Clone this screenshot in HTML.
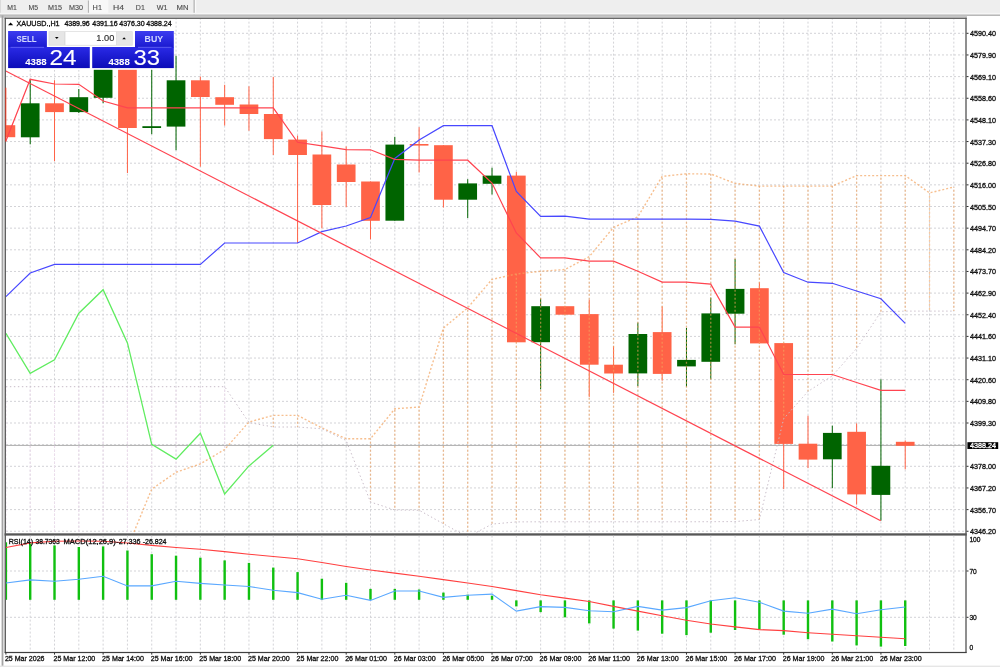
<!DOCTYPE html>
<html><head><meta charset="utf-8"><style>
html,body{margin:0;padding:0;background:#fff;width:1000px;height:667px;overflow:hidden}
svg{display:block;filter:blur(0.5px)}
</style></head><body>
<svg width="1000" height="667" viewBox="0 0 1000 667">
<defs><clipPath id="cm"><rect x="6" y="19" width="959.5" height="514"/></clipPath><clipPath id="cs"><rect x="6" y="535.6" width="959.5" height="116.2"/></clipPath><linearGradient id="gb" x1="0" y1="0" x2="0" y2="1"><stop offset="0" stop-color="#3c3cf0"/><stop offset="1" stop-color="#1a1ad0"/></linearGradient><linearGradient id="gp" x1="0" y1="0" x2="0" y2="1"><stop offset="0" stop-color="#2a2ae6"/><stop offset="1" stop-color="#0c0cb8"/></linearGradient></defs>
<rect x="0" y="0" width="1000" height="667" fill="#ffffff"/>
<rect x="0" y="0" width="1000" height="14.6" fill="#efefef"/>
<rect x="0" y="0" width="0.8" height="14.6" fill="#d6d6d6"/>
<rect x="89" y="0" width="19.4" height="14.6" fill="#f8f8f8"/>
<rect x="87.9" y="0.5" width="1" height="13.5" fill="#b0b0b0"/>
<rect x="193.6" y="0" width="1.2" height="14.6" fill="#a8a8a8"/>
<rect x="194.8" y="0" width="1.5" height="14.6" fill="#fafafa"/>
<rect x="196.3" y="0" width="803.7" height="12.8" fill="#eeeeee"/>
<text x="7.3" y="9.9" font-size="6.6" fill="#4e4e4e" font-family='"Liberation Sans", sans-serif' stroke="#4e4e4e" stroke-width="0.12" textLength="9.6" lengthAdjust="spacingAndGlyphs">M1</text>
<text x="28.5" y="9.9" font-size="6.6" fill="#4e4e4e" font-family='"Liberation Sans", sans-serif' stroke="#4e4e4e" stroke-width="0.12" textLength="9.6" lengthAdjust="spacingAndGlyphs">M5</text>
<text x="48" y="9.9" font-size="6.6" fill="#4e4e4e" font-family='"Liberation Sans", sans-serif' stroke="#4e4e4e" stroke-width="0.12" textLength="14" lengthAdjust="spacingAndGlyphs">M15</text>
<text x="69" y="9.9" font-size="6.6" fill="#4e4e4e" font-family='"Liberation Sans", sans-serif' stroke="#4e4e4e" stroke-width="0.12" textLength="14" lengthAdjust="spacingAndGlyphs">M30</text>
<text x="92.6" y="9.9" font-size="6.6" fill="#4e4e4e" font-family='"Liberation Sans", sans-serif' stroke="#4e4e4e" stroke-width="0.12" textLength="9.4" lengthAdjust="spacingAndGlyphs">H1</text>
<text x="113" y="9.9" font-size="6.6" fill="#4e4e4e" font-family='"Liberation Sans", sans-serif' stroke="#4e4e4e" stroke-width="0.12" textLength="11" lengthAdjust="spacingAndGlyphs">H4</text>
<text x="135.8" y="9.9" font-size="6.6" fill="#4e4e4e" font-family='"Liberation Sans", sans-serif' stroke="#4e4e4e" stroke-width="0.12" textLength="9" lengthAdjust="spacingAndGlyphs">D1</text>
<text x="156.8" y="9.9" font-size="6.6" fill="#4e4e4e" font-family='"Liberation Sans", sans-serif' stroke="#4e4e4e" stroke-width="0.12" textLength="10.8" lengthAdjust="spacingAndGlyphs">W1</text>
<text x="176.6" y="9.9" font-size="6.6" fill="#4e4e4e" font-family='"Liberation Sans", sans-serif' stroke="#4e4e4e" stroke-width="0.12" textLength="12" lengthAdjust="spacingAndGlyphs">MN</text>
<rect x="0" y="12.8" width="1000" height="1.9" fill="#f6f6f6"/>
<rect x="0" y="14.7" width="1000" height="0.9" fill="#8a8a8a"/>
<rect x="0" y="15.6" width="967" height="2.1" fill="#c6c6c6"/>
<rect x="1.6" y="15.5" width="1.8" height="651.5" fill="#a4a4a4"/>
<rect x="0" y="665.6" width="1000" height="1.4" fill="#e6e6e6"/>
<rect x="4.6" y="17.7" width="962.1" height="1.2" fill="#585858"/>
<rect x="4.6" y="17.8" width="1.3" height="634.8" fill="#505050"/>
<rect x="965.3" y="17.8" width="1.4" height="634.8" fill="#606060"/>
<rect x="4.6" y="533.3" width="962.1" height="2.3" fill="#565656"/>
<rect x="4.6" y="651.9" width="962.1" height="1.2" fill="#404040"/>
<g clip-path="url(#cm)">
<path d="M6 33.3H965.5M6 54.95H965.5M6 76.6H965.5M6 98.25H965.5M6 119.9H965.5M6 141.55H965.5M6 163.2H965.5M6 184.85H965.5M6 206.5H965.5M6 228.15H965.5M6 249.8H965.5M6 271.45H965.5M6 293.1H965.5M6 314.75H965.5M6 336.4H965.5M6 358.05H965.5M6 379.7H965.5M6 401.35H965.5M6 423H965.5M6 444.65H965.5M6 466.3H965.5M6 487.95H965.5M6 509.6H965.5M6 531.25H965.5" stroke="#d3d3d7" stroke-width="1" stroke-dasharray="2 2" fill="none"/>
<path d="M30.21 19V533M54.51 19V533M78.82 19V533M103.12 19V533M127.43 19V533M151.74 19V533M176.04 19V533M200.35 19V533M224.65 19V533M248.96 19V533M273.27 19V533M297.57 19V533M321.88 19V533M346.18 19V533M370.49 19V533M394.8 19V533M419.1 19V533M443.41 19V533M467.71 19V533M492.02 19V533M516.33 19V533M540.63 19V533M564.94 19V533M589.24 19V533M613.55 19V533M637.86 19V533M662.16 19V533M686.47 19V533M710.77 19V533M735.08 19V533M759.39 19V533M783.69 19V533M808 19V533M832.3 19V533M856.61 19V533M880.92 19V533M905.22 19V533M929.53 19V533M953.83 19V533" stroke="#d3d3d7" stroke-width="1" stroke-dasharray="2 2" stroke-dashoffset="1.35" fill="none"/>
<path d="M6 445.4H965.5" stroke="#adadad" stroke-width="1"/>
<rect x="5.4" y="87.7" width="1" height="54" fill="#ff6347"/>
<rect x="-3.45" y="125.2" width="18.7" height="12" fill="#ff6347"/>
<rect x="29.71" y="79.3" width="1" height="65" fill="#006400"/>
<rect x="20.86" y="103.3" width="18.7" height="34" fill="#006400"/>
<rect x="54.01" y="80.2" width="1" height="81" fill="#ff6347"/>
<rect x="45.16" y="103.3" width="18.7" height="8.8" fill="#ff6347"/>
<rect x="78.32" y="89" width="1" height="24" fill="#006400"/>
<rect x="69.47" y="97.2" width="18.7" height="14.9" fill="#006400"/>
<rect x="102.62" y="50" width="1" height="53.2" fill="#006400"/>
<rect x="93.77" y="60" width="18.7" height="37.8" fill="#006400"/>
<rect x="126.93" y="45" width="1" height="128" fill="#ff6347"/>
<rect x="118.08" y="55" width="18.7" height="73" fill="#ff6347"/>
<rect x="151.24" y="40" width="1" height="94.2" fill="#006400"/>
<rect x="142.39" y="126.2" width="18.7" height="1.8" fill="#006400"/>
<rect x="175.54" y="55.8" width="1" height="94.4" fill="#006400"/>
<rect x="166.69" y="80.3" width="18.7" height="46.3" fill="#006400"/>
<rect x="199.85" y="76.5" width="1" height="90.1" fill="#ff6347"/>
<rect x="191" y="80.3" width="18.7" height="16.7" fill="#ff6347"/>
<rect x="224.15" y="84.8" width="1" height="40.8" fill="#ff6347"/>
<rect x="215.3" y="97.2" width="18.7" height="7.6" fill="#ff6347"/>
<rect x="248.46" y="86.3" width="1" height="44.4" fill="#ff6347"/>
<rect x="239.61" y="104.5" width="18.7" height="9.5" fill="#ff6347"/>
<rect x="272.77" y="76.8" width="1" height="78.2" fill="#ff6347"/>
<rect x="263.92" y="114" width="18.7" height="25.1" fill="#ff6347"/>
<rect x="297.07" y="135.6" width="1" height="107.4" fill="#ff6347"/>
<rect x="288.22" y="139.6" width="18.7" height="15.4" fill="#ff6347"/>
<rect x="321.38" y="131.5" width="1" height="96.9" fill="#ff6347"/>
<rect x="312.53" y="154.5" width="18.7" height="50.5" fill="#ff6347"/>
<rect x="345.68" y="146.4" width="1" height="60.7" fill="#ff6347"/>
<rect x="336.83" y="164.5" width="18.7" height="17.5" fill="#ff6347"/>
<rect x="369.99" y="181.5" width="1" height="57.8" fill="#ff6347"/>
<rect x="361.14" y="181.5" width="18.7" height="39.3" fill="#ff6347"/>
<rect x="394.3" y="136.8" width="1" height="83.9" fill="#006400"/>
<rect x="385.45" y="144.6" width="18.7" height="76.1" fill="#006400"/>
<rect x="418.6" y="127.2" width="1" height="45.3" fill="#ff6347"/>
<rect x="409.75" y="144" width="18.7" height="1.6" fill="#ff6347"/>
<rect x="442.91" y="145.2" width="1" height="62.3" fill="#ff6347"/>
<rect x="434.06" y="145.2" width="18.7" height="54.5" fill="#ff6347"/>
<rect x="467.21" y="179.2" width="1" height="38.8" fill="#006400"/>
<rect x="458.36" y="183.4" width="18.7" height="16.3" fill="#006400"/>
<rect x="491.52" y="167.7" width="1" height="26.8" fill="#006400"/>
<rect x="482.67" y="175.6" width="18.7" height="8.2" fill="#006400"/>
<rect x="515.83" y="171.8" width="1" height="170.5" fill="#ff6347"/>
<rect x="506.98" y="175.6" width="18.7" height="166.7" fill="#ff6347"/>
<rect x="540.13" y="298.5" width="1" height="90.8" fill="#006400"/>
<rect x="531.28" y="306.2" width="18.7" height="36" fill="#006400"/>
<rect x="564.44" y="306.2" width="1" height="8.5" fill="#ff6347"/>
<rect x="555.59" y="306.2" width="18.7" height="8.5" fill="#ff6347"/>
<rect x="588.74" y="299.7" width="1" height="97.2" fill="#ff6347"/>
<rect x="579.89" y="314.1" width="18.7" height="50.6" fill="#ff6347"/>
<rect x="613.05" y="346.1" width="1" height="46.7" fill="#ff6347"/>
<rect x="604.2" y="364.7" width="18.7" height="8.8" fill="#ff6347"/>
<rect x="637.36" y="322.6" width="1" height="63.5" fill="#006400"/>
<rect x="628.51" y="334" width="18.7" height="39.4" fill="#006400"/>
<rect x="661.66" y="306.4" width="1" height="74.3" fill="#ff6347"/>
<rect x="652.81" y="332.1" width="18.7" height="41.8" fill="#ff6347"/>
<rect x="685.97" y="328" width="1" height="58.6" fill="#006400"/>
<rect x="677.12" y="359.9" width="18.7" height="6.5" fill="#006400"/>
<rect x="710.27" y="297.6" width="1" height="81.7" fill="#006400"/>
<rect x="701.42" y="313.4" width="18.7" height="48.4" fill="#006400"/>
<rect x="734.58" y="258.9" width="1" height="85.4" fill="#006400"/>
<rect x="725.73" y="288.9" width="18.7" height="24.8" fill="#006400"/>
<rect x="758.89" y="282.3" width="1" height="61.1" fill="#ff6347"/>
<rect x="750.04" y="288.2" width="18.7" height="55.2" fill="#ff6347"/>
<rect x="783.19" y="343.1" width="1" height="145.9" fill="#ff6347"/>
<rect x="774.34" y="343.1" width="18.7" height="100.8" fill="#ff6347"/>
<rect x="807.5" y="415.7" width="1" height="52.4" fill="#ff6347"/>
<rect x="798.65" y="443.7" width="18.7" height="15.9" fill="#ff6347"/>
<rect x="831.8" y="425.6" width="1" height="62.6" fill="#006400"/>
<rect x="822.95" y="432.9" width="18.7" height="26.4" fill="#006400"/>
<rect x="856.11" y="423.4" width="1" height="81.2" fill="#ff6347"/>
<rect x="847.26" y="431.8" width="18.7" height="62.6" fill="#ff6347"/>
<rect x="880.42" y="379.3" width="1" height="141.4" fill="#006400"/>
<rect x="871.57" y="465.8" width="18.7" height="29.1" fill="#006400"/>
<rect x="904.72" y="440.4" width="1" height="28.9" fill="#ff6347"/>
<rect x="895.87" y="441.8" width="18.7" height="4" fill="#ff6347"/>
<path d="M273.27 415.4V427" stroke="#f4a460" stroke-width="1.3" stroke-opacity="0.62" stroke-dasharray="2 2" stroke-dashoffset="1.75" fill="none"/>
<path d="M297.57 415.4V427" stroke="#f4a460" stroke-width="1.3" stroke-opacity="0.62" stroke-dasharray="2 2" stroke-dashoffset="1.75" fill="none"/>
<path d="M370.49 438.7V502" stroke="#f4a460" stroke-width="1.3" stroke-opacity="0.62" stroke-dasharray="2 2" stroke-dashoffset="1.05" fill="none"/>
<path d="M394.8 408.8V510" stroke="#f4a460" stroke-width="1.3" stroke-opacity="0.62" stroke-dasharray="2 2" stroke-dashoffset="3.15" fill="none"/>
<path d="M419.1 407V510.2" stroke="#f4a460" stroke-width="1.3" stroke-opacity="0.62" stroke-dasharray="2 2" stroke-dashoffset="1.35" fill="none"/>
<path d="M443.41 328V523.8" stroke="#f4a460" stroke-width="1.3" stroke-opacity="0.62" stroke-dasharray="2 2" stroke-dashoffset="2.35" fill="none"/>
<path d="M467.71 307.8V537" stroke="#f4a460" stroke-width="1.3" stroke-opacity="0.62" stroke-dasharray="2 2" stroke-dashoffset="2.15" fill="none"/>
<path d="M492.02 279.4V524.1" stroke="#f4a460" stroke-width="1.3" stroke-opacity="0.62" stroke-dasharray="2 2" stroke-dashoffset="1.75" fill="none"/>
<path d="M516.33 274V521.9" stroke="#f4a460" stroke-width="1.3" stroke-opacity="0.62" stroke-dasharray="2 2" stroke-dashoffset="0.35" fill="none"/>
<path d="M540.63 271.3V521.8" stroke="#f4a460" stroke-width="1.3" stroke-opacity="0.62" stroke-dasharray="2 2" stroke-dashoffset="1.65" fill="none"/>
<path d="M564.94 269.5V521.8" stroke="#f4a460" stroke-width="1.3" stroke-opacity="0.62" stroke-dasharray="2 2" stroke-dashoffset="3.85" fill="none"/>
<path d="M589.24 256.7V521.8" stroke="#f4a460" stroke-width="1.3" stroke-opacity="0.62" stroke-dasharray="2 2" stroke-dashoffset="3.05" fill="none"/>
<path d="M613.55 227.3V521.8" stroke="#f4a460" stroke-width="1.3" stroke-opacity="0.62" stroke-dasharray="2 2" stroke-dashoffset="1.65" fill="none"/>
<path d="M637.86 216.8V521.8" stroke="#f4a460" stroke-width="1.3" stroke-opacity="0.62" stroke-dasharray="2 2" stroke-dashoffset="3.15" fill="none"/>
<path d="M662.16 176.4V521.8" stroke="#f4a460" stroke-width="1.3" stroke-opacity="0.62" stroke-dasharray="2 2" stroke-dashoffset="2.75" fill="none"/>
<path d="M686.47 173.8V521.8" stroke="#f4a460" stroke-width="1.3" stroke-opacity="0.62" stroke-dasharray="2 2" stroke-dashoffset="0.15" fill="none"/>
<path d="M710.77 174V521.7" stroke="#f4a460" stroke-width="1.3" stroke-opacity="0.62" stroke-dasharray="2 2" stroke-dashoffset="0.35" fill="none"/>
<path d="M735.08 183.4V521.6" stroke="#f4a460" stroke-width="1.3" stroke-opacity="0.62" stroke-dasharray="2 2" stroke-dashoffset="1.75" fill="none"/>
<path d="M759.39 186.1V519.5" stroke="#f4a460" stroke-width="1.3" stroke-opacity="0.62" stroke-dasharray="2 2" stroke-dashoffset="0.45" fill="none"/>
<path d="M783.69 186.1V418.7" stroke="#f4a460" stroke-width="1.3" stroke-opacity="0.62" stroke-dasharray="2 2" stroke-dashoffset="0.45" fill="none"/>
<path d="M808 186.1V391.4" stroke="#f4a460" stroke-width="1.3" stroke-opacity="0.62" stroke-dasharray="2 2" stroke-dashoffset="0.45" fill="none"/>
<path d="M832.3 186.1V375.8" stroke="#f4a460" stroke-width="1.3" stroke-opacity="0.62" stroke-dasharray="2 2" stroke-dashoffset="0.45" fill="none"/>
<path d="M856.61 175.6V348.5" stroke="#f4a460" stroke-width="1.3" stroke-opacity="0.62" stroke-dasharray="2 2" stroke-dashoffset="1.95" fill="none"/>
<path d="M880.92 175.6V311.8" stroke="#f4a460" stroke-width="1.3" stroke-opacity="0.62" stroke-dasharray="2 2" stroke-dashoffset="1.95" fill="none"/>
<path d="M905.22 175.6V311.1" stroke="#f4a460" stroke-width="1.3" stroke-opacity="0.62" stroke-dasharray="2 2" stroke-dashoffset="1.95" fill="none"/>
<path d="M929.53 192.9V311.1" stroke="#f4a460" stroke-width="1.3" stroke-opacity="0.62" stroke-dasharray="2 2" stroke-dashoffset="1.25" fill="none"/>
<path d="M953.83 187V311.1" stroke="#f4a460" stroke-width="1.3" stroke-opacity="0.62" stroke-dasharray="2 2" stroke-dashoffset="1.35" fill="none"/>
<path d="M5.9 386.7V600" stroke="#ecdcec" stroke-width="1.1" stroke-dasharray="2 2" stroke-dashoffset="1.05" fill="none"/>
<path d="M30.21 386.7V600" stroke="#ecdcec" stroke-width="1.1" stroke-dasharray="2 2" stroke-dashoffset="1.05" fill="none"/>
<path d="M54.51 386.7V600" stroke="#ecdcec" stroke-width="1.1" stroke-dasharray="2 2" stroke-dashoffset="1.05" fill="none"/>
<path d="M78.82 386.7V600" stroke="#ecdcec" stroke-width="1.1" stroke-dasharray="2 2" stroke-dashoffset="1.05" fill="none"/>
<path d="M103.12 386.7V600" stroke="#ecdcec" stroke-width="1.1" stroke-dasharray="2 2" stroke-dashoffset="1.05" fill="none"/>
<path d="M127.43 386.7V547.8" stroke="#ecdcec" stroke-width="1.1" stroke-dasharray="2 2" stroke-dashoffset="1.05" fill="none"/>
<path d="M151.74 386.7V489.1" stroke="#ecdcec" stroke-width="1.1" stroke-dasharray="2 2" stroke-dashoffset="1.05" fill="none"/>
<path d="M176.04 386.7V472.3" stroke="#ecdcec" stroke-width="1.1" stroke-dasharray="2 2" stroke-dashoffset="1.05" fill="none"/>
<path d="M200.35 386.7V463.9" stroke="#ecdcec" stroke-width="1.1" stroke-dasharray="2 2" stroke-dashoffset="1.05" fill="none"/>
<path d="M224.65 386.7V449.5" stroke="#ecdcec" stroke-width="1.1" stroke-dasharray="2 2" stroke-dashoffset="1.05" fill="none"/>
<polyline points="5.9,600 30.21,600 54.51,600 78.82,600 103.12,600 127.43,547.8 151.74,489.1 176.04,472.3 200.35,463.9 224.65,449.5 248.96,422 273.27,415.4 297.57,415.4 321.88,427.9 346.18,438.7 370.49,438.7 394.8,408.8 419.1,407 443.41,328 467.71,307.8 492.02,279.4 516.33,274 540.63,271.3 564.94,269.5 589.24,256.7 613.55,227.3 637.86,216.8 662.16,176.4 686.47,173.8 710.77,174 735.08,183.4 759.39,186.1 783.69,186.1 808,186.1 832.3,186.1 856.61,175.6 880.92,175.6 905.22,175.6 929.53,192.9 953.83,187" stroke="#f4a460" stroke-opacity="0.7" stroke-width="1.4" stroke-dasharray="2 2" fill="none"/>
<polyline points="5.9,386.7 30.21,386.7 54.51,386.7 78.82,386.7 103.12,386.7 127.43,386.7 151.74,386.7 176.04,386.7 200.35,386.7 224.65,386.7 248.96,422.5 273.27,427 297.57,427 321.88,428.8 346.18,440.5 370.49,502 394.8,510 419.1,510.2 443.41,523.8 467.71,537 492.02,524.1 516.33,521.9 540.63,521.8 564.94,521.8 589.24,521.8 613.55,521.8 637.86,521.8 662.16,521.8 686.47,521.8 710.77,521.7 735.08,521.6 759.39,519.5 783.69,418.7 808,391.4 832.3,375.8 856.61,348.5 880.92,311.8 905.22,311.1 929.53,311.1 953.83,311.1" stroke="#c8bcc8" stroke-width="1" stroke-dasharray="1.4 2.6" fill="none"/>
<polyline points="5.9,296.6 30.21,273 54.51,264.4 78.82,264.4 103.12,264.4 127.43,264.4 151.74,264.4 176.04,264.4 200.35,264.4 224.65,243 248.96,243 273.27,243 297.57,243 321.88,231.6 346.18,226 370.49,217.5 394.8,158.4 419.1,140 443.41,125.7 467.71,125.7 492.02,125.7 516.33,191.5 540.63,216.4 564.94,216.2 589.24,219.2 613.55,219.2 637.86,219.2 662.16,219.2 686.47,219.2 710.77,219.3 735.08,221.2 759.39,226.1 783.69,272.6 808,282.2 832.3,283.3 856.61,291 880.92,298.8 905.22,323.3" stroke="#4848ff" stroke-width="1.2" fill="none"/>
<polyline points="5.9,141 30.21,79.3 54.51,84 78.82,84.3 103.12,101 127.43,107.8 151.74,107.8 176.04,107.8 200.35,107.8 224.65,107.8 248.96,107.8 273.27,107.8 297.57,142.3 321.88,145.8 346.18,149.6 370.49,149.8 394.8,159.3 419.1,160.2 443.41,160.2 467.71,160.2 492.02,183 516.33,233 540.63,257.9 564.94,257.9 589.24,261.1 613.55,261.1 637.86,271.3 662.16,282.1 686.47,282.1 710.77,284.1 735.08,327.1 759.39,327.1 783.69,374.5 808,374.5 832.3,374.5 856.61,382.5 880.92,390.4 905.22,390.4" stroke="#ff4450" stroke-width="1.2" fill="none"/>
<polyline points="5.9,333.4 30.21,373.4 54.51,359.9 78.82,313.2 103.12,289.7 127.43,342.9 151.74,444.3 176.04,459.1 200.35,433.2 224.65,493.9 248.96,465.9 273.27,445.3" stroke="#60ec60" stroke-width="1.3" fill="none"/>
<path d="M5.5 70.8L880.7 520.7" stroke="#ff4450" stroke-width="1.2" fill="none"/>
</g>
<rect x="5" y="87.7" width="1" height="54" fill="#c04030"/>
<rect x="6" y="19" width="168" height="50.8" fill="#ffffff"/>
<rect x="174" y="19" width="1.2" height="10.5" fill="#ffffff"/>
<path d="M8 25.2L10.6 22.6L13.2 25.2Z" fill="#000"/>
<text x="16.6" y="25.8" font-size="6.6" fill="#101010" font-family='"Liberation Sans", sans-serif' stroke="#101010" stroke-width="0.3" textLength="43" lengthAdjust="spacingAndGlyphs">XAUUSD.,H1</text>
<text x="64.4" y="25.8" font-size="6.6" fill="#101010" font-family='"Liberation Sans", sans-serif' stroke="#101010" stroke-width="0.3" textLength="25.4" lengthAdjust="spacingAndGlyphs">4389.96</text>
<text x="92.3" y="25.8" font-size="6.6" fill="#101010" font-family='"Liberation Sans", sans-serif' stroke="#101010" stroke-width="0.3" textLength="25.4" lengthAdjust="spacingAndGlyphs">4391.16</text>
<text x="119.3" y="25.8" font-size="6.6" fill="#101010" font-family='"Liberation Sans", sans-serif' stroke="#101010" stroke-width="0.3" textLength="25.4" lengthAdjust="spacingAndGlyphs">4376.30</text>
<text x="146.3" y="25.8" font-size="6.6" fill="#101010" font-family='"Liberation Sans", sans-serif' stroke="#101010" stroke-width="0.3" textLength="25.4" lengthAdjust="spacingAndGlyphs">4388.24</text>
<rect x="8.1" y="31" width="38.8" height="16.5" fill="url(#gb)"/>
<rect x="8.1" y="47" width="81.7" height="21.1" fill="url(#gp)"/>
<rect x="10.5" y="46.9" width="33.5" height="0.6" fill="#8080ff"/>
<rect x="92.2" y="47" width="81.6" height="21.1" fill="url(#gp)"/>
<rect x="135" y="31" width="38.8" height="16.5" fill="url(#gb)"/>
<rect x="138" y="46.9" width="33.5" height="0.6" fill="#8080ff"/>
<rect x="48.6" y="31.3" width="84" height="14.3" fill="#d8d8d8"/>
<rect x="49.4" y="31.9" width="15" height="13" fill="#e6e6e6"/>
<rect x="65.4" y="31.9" width="50.6" height="13" fill="#ffffff"/>
<rect x="116.4" y="31.9" width="15.6" height="13" fill="#e6e6e6"/>
<path d="M55 37L58.6 37L56.8 39Z" fill="#000"/>
<path d="M122.3 39.2L125.9 39.2L124.1 37.2Z" fill="#000"/>
<text x="96.3" y="41.1" font-size="8.9" fill="#303030" font-family='"Liberation Sans", sans-serif' stroke="#303030" stroke-width="0.15" textLength="18" lengthAdjust="spacingAndGlyphs">1.00</text>
<text x="16.5" y="42" font-size="9.2" fill="#d0d6ff" font-family='"Liberation Sans", sans-serif' stroke="#d0d6ff" stroke-width="0.05" textLength="20.2" lengthAdjust="spacingAndGlyphs" font-weight="bold">SELL</text>
<text x="144.6" y="41.9" font-size="9.2" fill="#d0d6ff" font-family='"Liberation Sans", sans-serif' stroke="#d0d6ff" stroke-width="0.05" textLength="18.5" lengthAdjust="spacingAndGlyphs" font-weight="bold">BUY</text>
<text x="25.2" y="65.2" font-size="8.4" fill="#ffffff" font-family='"Liberation Sans", sans-serif' stroke="#ffffff" stroke-width="0.05" textLength="21.4" lengthAdjust="spacingAndGlyphs" font-weight="bold">4388</text>
<text x="49.4" y="65.1" font-size="21.2" fill="#ffffff" font-family='"Liberation Sans", sans-serif' stroke="#ffffff" stroke-width="0.1" textLength="27" lengthAdjust="spacingAndGlyphs">24</text>
<text x="108.4" y="65.2" font-size="8.4" fill="#ffffff" font-family='"Liberation Sans", sans-serif' stroke="#ffffff" stroke-width="0.05" textLength="21.4" lengthAdjust="spacingAndGlyphs" font-weight="bold">4388</text>
<text x="133.4" y="65.3" font-size="21.2" fill="#ffffff" font-family='"Liberation Sans", sans-serif' stroke="#ffffff" stroke-width="0.1" textLength="26.5" lengthAdjust="spacingAndGlyphs">33</text>
<g clip-path="url(#cs)">
<path d="M6 571H965.5M6 617.3H965.5M30.21 535.6V651.8M54.51 535.6V651.8M78.82 535.6V651.8M103.12 535.6V651.8M127.43 535.6V651.8M151.74 535.6V651.8M176.04 535.6V651.8M200.35 535.6V651.8M224.65 535.6V651.8M248.96 535.6V651.8M273.27 535.6V651.8M297.57 535.6V651.8M321.88 535.6V651.8M346.18 535.6V651.8M370.49 535.6V651.8M394.8 535.6V651.8M419.1 535.6V651.8M443.41 535.6V651.8M467.71 535.6V651.8M492.02 535.6V651.8M516.33 535.6V651.8M540.63 535.6V651.8M564.94 535.6V651.8M589.24 535.6V651.8M613.55 535.6V651.8M637.86 535.6V651.8M662.16 535.6V651.8M686.47 535.6V651.8M710.77 535.6V651.8M735.08 535.6V651.8M759.39 535.6V651.8M783.69 535.6V651.8M808 535.6V651.8M832.3 535.6V651.8M856.61 535.6V651.8M880.92 535.6V651.8M905.22 535.6V651.8M929.53 535.6V651.8M953.83 535.6V651.8" stroke="#d3d3d7" stroke-width="1" stroke-dasharray="2 2" fill="none"/>
<rect x="4.7" y="542.3" width="2.4" height="57.5" fill="#10c010"/>
<rect x="29.01" y="543.3" width="2.4" height="56.5" fill="#10c010"/>
<rect x="53.31" y="545.4" width="2.4" height="54.4" fill="#10c010"/>
<rect x="77.62" y="547" width="2.4" height="52.8" fill="#10c010"/>
<rect x="101.92" y="546.4" width="2.4" height="53.4" fill="#10c010"/>
<rect x="126.23" y="550.5" width="2.4" height="49.3" fill="#10c010"/>
<rect x="150.54" y="554.2" width="2.4" height="45.6" fill="#10c010"/>
<rect x="174.84" y="555.7" width="2.4" height="44.1" fill="#10c010"/>
<rect x="199.15" y="557.7" width="2.4" height="42.1" fill="#10c010"/>
<rect x="223.45" y="560.4" width="2.4" height="39.4" fill="#10c010"/>
<rect x="247.76" y="562.9" width="2.4" height="36.9" fill="#10c010"/>
<rect x="272.07" y="567.6" width="2.4" height="32.2" fill="#10c010"/>
<rect x="296.37" y="572.1" width="2.4" height="27.7" fill="#10c010"/>
<rect x="320.68" y="578.7" width="2.4" height="21.1" fill="#10c010"/>
<rect x="344.98" y="582.8" width="2.4" height="17" fill="#10c010"/>
<rect x="369.29" y="588.9" width="2.4" height="10.9" fill="#10c010"/>
<rect x="393.6" y="588.9" width="2.4" height="10.9" fill="#10c010"/>
<rect x="417.9" y="589.5" width="2.4" height="10.3" fill="#10c010"/>
<rect x="442.21" y="592.6" width="2.4" height="7.2" fill="#10c010"/>
<rect x="466.51" y="594.7" width="2.4" height="5.1" fill="#10c010"/>
<rect x="490.82" y="595.7" width="2.4" height="4.1" fill="#10c010"/>
<rect x="515.13" y="600.4" width="2.4" height="6" fill="#10c010"/>
<rect x="539.43" y="600.4" width="2.4" height="11.7" fill="#10c010"/>
<rect x="563.74" y="600.4" width="2.4" height="16.9" fill="#10c010"/>
<rect x="588.04" y="600.4" width="2.4" height="23" fill="#10c010"/>
<rect x="612.35" y="600.4" width="2.4" height="28.2" fill="#10c010"/>
<rect x="636.66" y="600.4" width="2.4" height="30.2" fill="#10c010"/>
<rect x="660.96" y="600.4" width="2.4" height="33.3" fill="#10c010"/>
<rect x="685.27" y="600.4" width="2.4" height="34.7" fill="#10c010"/>
<rect x="709.57" y="600.4" width="2.4" height="32.3" fill="#10c010"/>
<rect x="733.88" y="600.4" width="2.4" height="29.6" fill="#10c010"/>
<rect x="758.19" y="600.4" width="2.4" height="29.2" fill="#10c010"/>
<rect x="782.49" y="600.4" width="2.4" height="34.3" fill="#10c010"/>
<rect x="806.8" y="600.4" width="2.4" height="38.8" fill="#10c010"/>
<rect x="831.1" y="600.4" width="2.4" height="41.1" fill="#10c010"/>
<rect x="855.41" y="600.4" width="2.4" height="45" fill="#10c010"/>
<rect x="879.72" y="600.4" width="2.4" height="46.2" fill="#10c010"/>
<rect x="904.02" y="600.4" width="2.4" height="45.6" fill="#10c010"/>
<polyline points="5.9,547.5 30.21,542.9 54.51,541.3 78.82,541 103.12,541.2 127.43,543 151.74,545.4 176.04,547.5 200.35,549.3 224.65,551.6 248.96,554.2 273.27,556.5 297.57,558.7 321.88,562.5 346.18,566.5 370.49,570 394.8,573.1 419.1,576.3 443.41,579.6 467.71,583 492.02,586.5 516.33,590.6 540.63,594.7 564.94,598.1 589.24,601.5 613.55,606.4 637.86,611.1 662.16,615.8 686.47,620.3 710.77,624 735.08,626.9 759.39,629.6 783.69,630.6 808,632.7 832.3,634.3 856.61,635.7 880.92,637.2 905.22,638.8" stroke="#ff4040" stroke-width="1.1" fill="none"/>
<polyline points="5.9,583 30.21,579.9 54.51,581.3 78.82,579.3 103.12,576.2 127.43,585.9 151.74,585.9 176.04,581.3 200.35,583.4 224.65,585 248.96,586.5 273.27,590.2 297.57,592.6 321.88,599.2 346.18,595.3 370.49,600.4 394.8,591 419.1,591 443.41,597.4 467.71,595.3 492.02,594.1 516.33,611.1 540.63,606.6 564.94,607.4 589.24,610.7 613.55,611.7 637.86,606.4 662.16,610.1 686.47,607.6 710.77,600.8 735.08,597.8 759.39,602.3 783.69,611.1 808,613.2 832.3,609.1 856.61,613.8 880.92,609.7 905.22,607" stroke="#5aa8ff" stroke-width="1.1" fill="none"/>
</g>
<text x="8.7" y="543.6" font-size="6.9" fill="#101010" font-family='"Liberation Sans", sans-serif' stroke="#101010" stroke-width="0.3" textLength="24.5" lengthAdjust="spacingAndGlyphs">RSI(14)</text>
<text x="35.5" y="543.6" font-size="6.9" fill="#101010" font-family='"Liberation Sans", sans-serif' stroke="#101010" stroke-width="0.3" textLength="24.2" lengthAdjust="spacingAndGlyphs">38.7363</text>
<text x="63.6" y="543.6" font-size="6.9" fill="#101010" font-family='"Liberation Sans", sans-serif' stroke="#101010" stroke-width="0.3" textLength="52.2" lengthAdjust="spacingAndGlyphs">MACD(12,26,9)</text>
<text x="116.3" y="543.6" font-size="6.9" fill="#101010" font-family='"Liberation Sans", sans-serif' stroke="#101010" stroke-width="0.3" textLength="24.2" lengthAdjust="spacingAndGlyphs">-27.336</text>
<text x="142.7" y="543.6" font-size="6.9" fill="#101010" font-family='"Liberation Sans", sans-serif' stroke="#101010" stroke-width="0.3" textLength="23.8" lengthAdjust="spacingAndGlyphs">-26.824</text>
<rect x="966.5" y="32.8" width="2" height="1" fill="#303030"/>
<text x="970" y="36.3" font-size="6.9" fill="#101010" font-family='"Liberation Sans", sans-serif' stroke="#101010" stroke-width="0.3" textLength="26" lengthAdjust="spacingAndGlyphs">4590.40</text>
<rect x="966.5" y="54.45" width="2" height="1" fill="#303030"/>
<text x="970" y="57.95" font-size="6.9" fill="#101010" font-family='"Liberation Sans", sans-serif' stroke="#101010" stroke-width="0.3" textLength="26" lengthAdjust="spacingAndGlyphs">4579.90</text>
<rect x="966.5" y="76.1" width="2" height="1" fill="#303030"/>
<text x="970" y="79.6" font-size="6.9" fill="#101010" font-family='"Liberation Sans", sans-serif' stroke="#101010" stroke-width="0.3" textLength="26" lengthAdjust="spacingAndGlyphs">4569.10</text>
<rect x="966.5" y="97.75" width="2" height="1" fill="#303030"/>
<text x="970" y="101.25" font-size="6.9" fill="#101010" font-family='"Liberation Sans", sans-serif' stroke="#101010" stroke-width="0.3" textLength="26" lengthAdjust="spacingAndGlyphs">4558.60</text>
<rect x="966.5" y="119.4" width="2" height="1" fill="#303030"/>
<text x="970" y="122.9" font-size="6.9" fill="#101010" font-family='"Liberation Sans", sans-serif' stroke="#101010" stroke-width="0.3" textLength="26" lengthAdjust="spacingAndGlyphs">4548.10</text>
<rect x="966.5" y="141.05" width="2" height="1" fill="#303030"/>
<text x="970" y="144.55" font-size="6.9" fill="#101010" font-family='"Liberation Sans", sans-serif' stroke="#101010" stroke-width="0.3" textLength="26" lengthAdjust="spacingAndGlyphs">4537.30</text>
<rect x="966.5" y="162.7" width="2" height="1" fill="#303030"/>
<text x="970" y="166.2" font-size="6.9" fill="#101010" font-family='"Liberation Sans", sans-serif' stroke="#101010" stroke-width="0.3" textLength="26" lengthAdjust="spacingAndGlyphs">4526.80</text>
<rect x="966.5" y="184.35" width="2" height="1" fill="#303030"/>
<text x="970" y="187.85" font-size="6.9" fill="#101010" font-family='"Liberation Sans", sans-serif' stroke="#101010" stroke-width="0.3" textLength="26" lengthAdjust="spacingAndGlyphs">4516.00</text>
<rect x="966.5" y="206" width="2" height="1" fill="#303030"/>
<text x="970" y="209.5" font-size="6.9" fill="#101010" font-family='"Liberation Sans", sans-serif' stroke="#101010" stroke-width="0.3" textLength="26" lengthAdjust="spacingAndGlyphs">4505.50</text>
<rect x="966.5" y="227.65" width="2" height="1" fill="#303030"/>
<text x="970" y="231.15" font-size="6.9" fill="#101010" font-family='"Liberation Sans", sans-serif' stroke="#101010" stroke-width="0.3" textLength="26" lengthAdjust="spacingAndGlyphs">4494.70</text>
<rect x="966.5" y="249.3" width="2" height="1" fill="#303030"/>
<text x="970" y="252.8" font-size="6.9" fill="#101010" font-family='"Liberation Sans", sans-serif' stroke="#101010" stroke-width="0.3" textLength="26" lengthAdjust="spacingAndGlyphs">4484.20</text>
<rect x="966.5" y="270.95" width="2" height="1" fill="#303030"/>
<text x="970" y="274.45" font-size="6.9" fill="#101010" font-family='"Liberation Sans", sans-serif' stroke="#101010" stroke-width="0.3" textLength="26" lengthAdjust="spacingAndGlyphs">4473.70</text>
<rect x="966.5" y="292.6" width="2" height="1" fill="#303030"/>
<text x="970" y="296.1" font-size="6.9" fill="#101010" font-family='"Liberation Sans", sans-serif' stroke="#101010" stroke-width="0.3" textLength="26" lengthAdjust="spacingAndGlyphs">4462.90</text>
<rect x="966.5" y="314.25" width="2" height="1" fill="#303030"/>
<text x="970" y="317.75" font-size="6.9" fill="#101010" font-family='"Liberation Sans", sans-serif' stroke="#101010" stroke-width="0.3" textLength="26" lengthAdjust="spacingAndGlyphs">4452.40</text>
<rect x="966.5" y="335.9" width="2" height="1" fill="#303030"/>
<text x="970" y="339.4" font-size="6.9" fill="#101010" font-family='"Liberation Sans", sans-serif' stroke="#101010" stroke-width="0.3" textLength="26" lengthAdjust="spacingAndGlyphs">4441.60</text>
<rect x="966.5" y="357.55" width="2" height="1" fill="#303030"/>
<text x="970" y="361.05" font-size="6.9" fill="#101010" font-family='"Liberation Sans", sans-serif' stroke="#101010" stroke-width="0.3" textLength="26" lengthAdjust="spacingAndGlyphs">4431.10</text>
<rect x="966.5" y="379.2" width="2" height="1" fill="#303030"/>
<text x="970" y="382.7" font-size="6.9" fill="#101010" font-family='"Liberation Sans", sans-serif' stroke="#101010" stroke-width="0.3" textLength="26" lengthAdjust="spacingAndGlyphs">4420.60</text>
<rect x="966.5" y="400.85" width="2" height="1" fill="#303030"/>
<text x="970" y="404.35" font-size="6.9" fill="#101010" font-family='"Liberation Sans", sans-serif' stroke="#101010" stroke-width="0.3" textLength="26" lengthAdjust="spacingAndGlyphs">4409.80</text>
<rect x="966.5" y="422.5" width="2" height="1" fill="#303030"/>
<text x="970" y="426" font-size="6.9" fill="#101010" font-family='"Liberation Sans", sans-serif' stroke="#101010" stroke-width="0.3" textLength="26" lengthAdjust="spacingAndGlyphs">4399.30</text>
<rect x="966.5" y="465.8" width="2" height="1" fill="#303030"/>
<text x="970" y="469.3" font-size="6.9" fill="#101010" font-family='"Liberation Sans", sans-serif' stroke="#101010" stroke-width="0.3" textLength="26" lengthAdjust="spacingAndGlyphs">4378.00</text>
<rect x="966.5" y="487.45" width="2" height="1" fill="#303030"/>
<text x="970" y="490.95" font-size="6.9" fill="#101010" font-family='"Liberation Sans", sans-serif' stroke="#101010" stroke-width="0.3" textLength="26" lengthAdjust="spacingAndGlyphs">4367.20</text>
<rect x="966.5" y="509.1" width="2" height="1" fill="#303030"/>
<text x="970" y="512.6" font-size="6.9" fill="#101010" font-family='"Liberation Sans", sans-serif' stroke="#101010" stroke-width="0.3" textLength="26" lengthAdjust="spacingAndGlyphs">4356.70</text>
<rect x="966.5" y="530.75" width="2" height="1" fill="#303030"/>
<text x="970" y="534.25" font-size="6.9" fill="#101010" font-family='"Liberation Sans", sans-serif' stroke="#101010" stroke-width="0.3" textLength="26" lengthAdjust="spacingAndGlyphs">4346.20</text>
<rect x="967.4" y="442.2" width="30.8" height="6.8" fill="#000000"/>
<text x="970" y="448.3" font-size="6.9" fill="#ffffff" font-family='"Liberation Sans", sans-serif' stroke="#ffffff" stroke-width="0.3" textLength="26" lengthAdjust="spacingAndGlyphs">4388.24</text>
<text x="969.4" y="541.9" font-size="6.9" fill="#101010" font-family='"Liberation Sans", sans-serif' stroke="#101010" stroke-width="0.3" textLength="11.1" lengthAdjust="spacingAndGlyphs">100</text>
<text x="969.4" y="573.9" font-size="6.9" fill="#101010" font-family='"Liberation Sans", sans-serif' stroke="#101010" stroke-width="0.3" textLength="7.4" lengthAdjust="spacingAndGlyphs">70</text>
<text x="969.4" y="619.6" font-size="6.9" fill="#101010" font-family='"Liberation Sans", sans-serif' stroke="#101010" stroke-width="0.3" textLength="7.4" lengthAdjust="spacingAndGlyphs">30</text>
<text x="969.4" y="650.1" font-size="6.9" fill="#101010" font-family='"Liberation Sans", sans-serif' stroke="#101010" stroke-width="0.3" textLength="3.7" lengthAdjust="spacingAndGlyphs">0</text>
<rect x="966.5" y="570.5" width="2" height="1" fill="#303030"/>
<rect x="966.5" y="616.8" width="2" height="1" fill="#303030"/>
<rect x="5.4" y="652.6" width="1" height="2" fill="#303030"/>
<text x="4.9" y="661.1" font-size="7" fill="#101010" font-family='"Liberation Sans", sans-serif' stroke="#101010" stroke-width="0.3" textLength="39.6" lengthAdjust="spacingAndGlyphs">25 Mar 2026</text>
<rect x="54.01" y="652.6" width="1" height="2" fill="#303030"/>
<text x="53.51" y="661.1" font-size="7" fill="#101010" font-family='"Liberation Sans", sans-serif' stroke="#101010" stroke-width="0.3" textLength="41.8" lengthAdjust="spacingAndGlyphs">25 Mar 12:00</text>
<rect x="102.62" y="652.6" width="1" height="2" fill="#303030"/>
<text x="102.12" y="661.1" font-size="7" fill="#101010" font-family='"Liberation Sans", sans-serif' stroke="#101010" stroke-width="0.3" textLength="41.8" lengthAdjust="spacingAndGlyphs">25 Mar 14:00</text>
<rect x="151.24" y="652.6" width="1" height="2" fill="#303030"/>
<text x="150.74" y="661.1" font-size="7" fill="#101010" font-family='"Liberation Sans", sans-serif' stroke="#101010" stroke-width="0.3" textLength="41.8" lengthAdjust="spacingAndGlyphs">25 Mar 16:00</text>
<rect x="199.85" y="652.6" width="1" height="2" fill="#303030"/>
<text x="199.35" y="661.1" font-size="7" fill="#101010" font-family='"Liberation Sans", sans-serif' stroke="#101010" stroke-width="0.3" textLength="41.8" lengthAdjust="spacingAndGlyphs">25 Mar 18:00</text>
<rect x="248.46" y="652.6" width="1" height="2" fill="#303030"/>
<text x="247.96" y="661.1" font-size="7" fill="#101010" font-family='"Liberation Sans", sans-serif' stroke="#101010" stroke-width="0.3" textLength="41.8" lengthAdjust="spacingAndGlyphs">25 Mar 20:00</text>
<rect x="297.07" y="652.6" width="1" height="2" fill="#303030"/>
<text x="296.57" y="661.1" font-size="7" fill="#101010" font-family='"Liberation Sans", sans-serif' stroke="#101010" stroke-width="0.3" textLength="41.8" lengthAdjust="spacingAndGlyphs">25 Mar 22:00</text>
<rect x="345.68" y="652.6" width="1" height="2" fill="#303030"/>
<text x="345.18" y="661.1" font-size="7" fill="#101010" font-family='"Liberation Sans", sans-serif' stroke="#101010" stroke-width="0.3" textLength="41.8" lengthAdjust="spacingAndGlyphs">26 Mar 01:00</text>
<rect x="394.3" y="652.6" width="1" height="2" fill="#303030"/>
<text x="393.8" y="661.1" font-size="7" fill="#101010" font-family='"Liberation Sans", sans-serif' stroke="#101010" stroke-width="0.3" textLength="41.8" lengthAdjust="spacingAndGlyphs">26 Mar 03:00</text>
<rect x="442.91" y="652.6" width="1" height="2" fill="#303030"/>
<text x="442.41" y="661.1" font-size="7" fill="#101010" font-family='"Liberation Sans", sans-serif' stroke="#101010" stroke-width="0.3" textLength="41.8" lengthAdjust="spacingAndGlyphs">26 Mar 05:00</text>
<rect x="491.52" y="652.6" width="1" height="2" fill="#303030"/>
<text x="491.02" y="661.1" font-size="7" fill="#101010" font-family='"Liberation Sans", sans-serif' stroke="#101010" stroke-width="0.3" textLength="41.8" lengthAdjust="spacingAndGlyphs">26 Mar 07:00</text>
<rect x="540.13" y="652.6" width="1" height="2" fill="#303030"/>
<text x="539.63" y="661.1" font-size="7" fill="#101010" font-family='"Liberation Sans", sans-serif' stroke="#101010" stroke-width="0.3" textLength="41.8" lengthAdjust="spacingAndGlyphs">26 Mar 09:00</text>
<rect x="588.74" y="652.6" width="1" height="2" fill="#303030"/>
<text x="588.24" y="661.1" font-size="7" fill="#101010" font-family='"Liberation Sans", sans-serif' stroke="#101010" stroke-width="0.3" textLength="41.8" lengthAdjust="spacingAndGlyphs">26 Mar 11:00</text>
<rect x="637.36" y="652.6" width="1" height="2" fill="#303030"/>
<text x="636.86" y="661.1" font-size="7" fill="#101010" font-family='"Liberation Sans", sans-serif' stroke="#101010" stroke-width="0.3" textLength="41.8" lengthAdjust="spacingAndGlyphs">26 Mar 13:00</text>
<rect x="685.97" y="652.6" width="1" height="2" fill="#303030"/>
<text x="685.47" y="661.1" font-size="7" fill="#101010" font-family='"Liberation Sans", sans-serif' stroke="#101010" stroke-width="0.3" textLength="41.8" lengthAdjust="spacingAndGlyphs">26 Mar 15:00</text>
<rect x="734.58" y="652.6" width="1" height="2" fill="#303030"/>
<text x="734.08" y="661.1" font-size="7" fill="#101010" font-family='"Liberation Sans", sans-serif' stroke="#101010" stroke-width="0.3" textLength="41.8" lengthAdjust="spacingAndGlyphs">26 Mar 17:00</text>
<rect x="783.19" y="652.6" width="1" height="2" fill="#303030"/>
<text x="782.69" y="661.1" font-size="7" fill="#101010" font-family='"Liberation Sans", sans-serif' stroke="#101010" stroke-width="0.3" textLength="41.8" lengthAdjust="spacingAndGlyphs">26 Mar 19:00</text>
<rect x="831.8" y="652.6" width="1" height="2" fill="#303030"/>
<text x="831.3" y="661.1" font-size="7" fill="#101010" font-family='"Liberation Sans", sans-serif' stroke="#101010" stroke-width="0.3" textLength="41.8" lengthAdjust="spacingAndGlyphs">26 Mar 21:00</text>
<rect x="880.42" y="652.6" width="1" height="2" fill="#303030"/>
<text x="879.92" y="661.1" font-size="7" fill="#101010" font-family='"Liberation Sans", sans-serif' stroke="#101010" stroke-width="0.3" textLength="41.8" lengthAdjust="spacingAndGlyphs">26 Mar 23:00</text>
</svg>
</body></html>
